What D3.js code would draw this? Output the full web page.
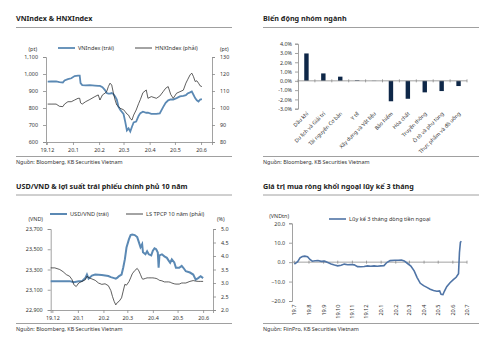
<!DOCTYPE html>
<html>
<head>
<meta charset="utf-8">
<script src="https://cdn.jsdelivr.net/npm/d3@7"></script>
<style>
  body { margin: 0; background: #fff; }
  svg { font-family: "Noto Sans", "Open Sans", sans-serif; }
</style>
</head>
<body>
<div id="wrapper"></div>
<script>
// ---- VNIndex & HNXIndex
const indexDates = ["2019-12-02","2019-12-06","2019-12-12","2019-12-16","2019-12-20","2019-12-22","2019-12-26","2019-12-30",
  "2020-01-03","2020-01-07","2020-01-09","2020-01-10","2020-01-12","2020-01-16","2020-01-21","2020-01-27","2020-01-31",
  "2020-02-02","2020-02-05","2020-02-08","2020-02-10","2020-02-12","2020-02-14","2020-02-16","2020-02-18","2020-02-20",
  "2020-02-22","2020-02-24","2020-02-26","2020-03-01","2020-03-03","2020-03-05","2020-03-07","2020-03-09","2020-03-11",
  "2020-03-13","2020-03-16","2020-03-19","2020-03-21","2020-03-24","2020-03-28","2020-03-30","2020-04-03","2020-04-09",
  "2020-04-13","2020-04-17","2020-04-20","2020-04-23","2020-04-26","2020-04-29","2020-05-03","2020-05-07","2020-05-11",
  "2020-05-14","2020-05-16","2020-05-19","2020-05-21","2020-05-23","2020-05-25","2020-05-27","2020-05-29","2020-05-31","2020-06-02"];
const vnIndex = [955,956,956,952,950,962,970,975,988,990,990,946,935,933,935,932,930,930,922,905,888,885,885,888,882,868,
  850,808,790,765,720,668,680,662,690,715,720,755,770,778,772,772,766,765,768,805,830,845,850,850,858,868,872,876,885,892,
  897,878,858,845,838,850,852];
const hnxIndex = [102.3,102.3,102.3,101.0,100.8,102.3,103.7,103.7,104.7,105.7,105.7,103.0,102.3,103.7,105.0,106.7,107.7,
  104.7,107.7,108.7,109.6,112.6,114.6,113.5,108.7,104.7,101.7,100.8,99.8,99.0,97.8,96.5,95.8,93.8,92.9,95.8,98.8,102.7,
  105.0,109.0,110.6,105.7,106.7,105.7,107.0,109.6,111.6,112.6,108.0,105.7,108.7,109.6,110.5,114.6,116.6,119.5,120.5,118.5,
  115.6,116.0,114.6,113.0,112.6];
const indexLeftTicks = [600,700,800,900,1000,1100];
const indexRightTicks = [80,90,100,110,120,130];

// ---- Biến động nhóm ngành
const sectorNames = ["Dầu khí","Du lịch và Giải trí","Tài nguyên Cơ bản","Y tế","Xây dựng và Vật liệu","Bảo hiểm",
  "Hóa chất","Truyền thông","Ô tô và phụ tùng","Thực phẩm và đồ uống"];
const sectorChange = [2.95,0.8,0.45,0.06,-0.02,-2.2,-1.93,-1.24,-1.1,-0.56];
const sectorTicks = [-3,-2,-1,0,1,2,3,4];

// ---- USD/VND & LS TPCP 10 năm
const fxDates = ["2019-11-29","2019-12-04","2019-12-10","2019-12-14","2019-12-18","2019-12-22","2019-12-25","2019-12-27",
  "2019-12-30","2020-01-02","2020-01-06","2020-01-10","2020-01-12","2020-01-14","2020-01-18","2020-01-22","2020-01-26",
  "2020-01-30","2020-02-03","2020-02-07","2020-02-10","2020-02-12","2020-02-14","2020-02-16","2020-02-18","2020-02-20",
  "2020-02-23","2020-02-25","2020-02-27","2020-02-29","2020-03-03","2020-03-05","2020-03-07","2020-03-10","2020-03-13",
  "2020-03-15","2020-03-17","2020-03-19","2020-03-20","2020-03-23","2020-03-25","2020-03-27","2020-03-30","2020-04-01",
  "2020-04-03","2020-04-05","2020-04-07","2020-04-08","2020-04-09","2020-04-12","2020-04-15","2020-04-18","2020-04-20",
  "2020-04-22","2020-04-24","2020-04-27","2020-04-29","2020-05-03","2020-05-06","2020-05-08","2020-05-11","2020-05-16",
  "2020-05-20","2020-05-23","2020-05-26","2020-05-29","2020-06-01"];
const usdVnd = [23183,23183,23183,23183,23183,23185,23180,23175,23180,23183,23185,23215,23250,23210,23240,23250,23248,
  23245,23240,23235,23225,23220,23215,23210,23220,23235,23250,23317,23400,23517,23600,23640,23645,23640,23620,23570,
  23520,23550,23470,23450,23480,23450,23440,23485,23510,23500,23467,23317,23440,23450,23430,23415,23390,23367,23400,
  23370,23317,23317,23335,23317,23283,23270,23250,23200,23215,23233,23215];
const bondYield = [3.56,3.56,3.50,3.42,3.31,3.25,3.12,2.94,2.87,3.00,3.06,3.12,3.25,3.20,3.15,3.10,3.00,2.95,2.97,2.90,
  2.72,2.50,2.32,2.19,2.28,2.32,2.45,2.70,2.95,2.92,3.05,3.19,3.34,3.46,3.54,3.45,3.31,3.16,3.14,3.17,3.19,3.19,3.19,3.19,
  3.18,3.17,3.14,3.12,3.10,3.08,3.04,3.04,3.04,3.03,3.00,2.97,2.96,2.96,3.00,3.00,3.00,3.06,3.09,3.07,3.06,3.06,3.06];
const fxLeftTicks = [22900,23100,23300,23500,23700];
const fxRightTicks = [2.0,2.5,3.0,3.5,4.0,4.5,5.0];
const halfYearTicks = ["19.12","20.1","20.2","20.3","20.4","20.5","20.6"];

// ---- Giá trị mua ròng khối ngoại lũy kế 3 tháng
const flowDates = ["2019-07-01","2019-07-08","2019-07-13","2019-07-18","2019-07-23","2019-07-29","2019-08-03","2019-08-08",
  "2019-08-14","2019-08-20","2019-08-27","2019-09-03","2019-09-10","2019-09-17","2019-09-24","2019-10-01","2019-10-08",
  "2019-10-15","2019-10-22","2019-10-29","2019-11-05","2019-11-12","2019-11-19","2019-11-26","2019-12-03","2019-12-10",
  "2019-12-17","2019-12-24","2019-12-31","2020-01-07","2020-01-13","2020-01-20","2020-01-30","2020-02-06","2020-02-13",
  "2020-02-19","2020-02-26","2020-03-04","2020-03-11","2020-03-17","2020-03-24","2020-03-31","2020-04-07","2020-04-14",
  "2020-04-21","2020-04-28","2020-05-04","2020-05-07","2020-05-11","2020-05-14","2020-05-19","2020-05-26","2020-06-02",
  "2020-06-08","2020-06-13","2020-06-15","2020-06-17","2020-06-19"];
const foreignFlow = [-1.0,0.2,2.2,2.9,3.1,2.8,1.4,0.5,0.7,0.8,0.4,0.5,-0.2,-0.9,-1.5,-1.9,-1.6,-1.0,-1.3,-1.2,-1.4,-2.3,
  -2.4,-2.2,-1.9,-2.1,-1.9,-2.1,-1.9,-1.8,-0.2,0.8,1.0,1.0,1.1,0.6,-0.7,-2.0,-4.5,-7.8,-10.9,-12.1,-13.0,-13.9,-14.6,-15.0,
  -14.8,-16.5,-16.7,-15.0,-12.6,-10.6,-9.0,-7.8,-6.0,5.0,10.2,10.8];
const flowTicks = [-20,-10,0,10,20];
const monthTicks = ["19.7","19.8","19.9","19.10","19.11","19.12","20.1","20.2","20.3","20.4","20.5","20.6","20.7"];

const parseDate = d3.timeParse("%Y-%m-%d");
const parseMonth = d3.timeParse("%y.%m");
const textColor = "#333";
const axisColor = "#8a8a8a";
const blueLine = "#5b89b4";

const svg = d3.select("#wrapper").append("svg")
  .attr("width", 500)
  .attr("height", 348);

function drawFrame(x0, x1, titleY, title, sourceY, source) {
  svg.append("text")
    .attr("x", x0).attr("y", titleY)
    .attr("font-size", 7.2).attr("font-weight", "bold").attr("fill", "#222")
    .text(title);
  svg.append("line")
    .attr("x1", x0).attr("x2", x1).attr("y1", titleY + 6.5).attr("y2", titleY + 6.5)
    .attr("stroke", "#888").attr("stroke-width", 0.8);
  svg.append("line")
    .attr("x1", x0).attr("x2", x1).attr("y1", sourceY - 6).attr("y2", sourceY - 6)
    .attr("stroke", "#888").attr("stroke-width", 0.8);
  svg.append("text")
    .attr("x", x0).attr("y", sourceY).attr("dy", "0.35em")
    .attr("font-size", 5.4).attr("fill", textColor)
    .text(source);
}

function styleAxis(g) {
  g.select(".domain").attr("stroke", axisColor).attr("stroke-width", 0.8);
  g.selectAll(".tick line").attr("stroke", axisColor).attr("stroke-width", 0.8);
  g.selectAll(".tick text").attr("fill", textColor).attr("font-size", 5.4);
  g.attr("font-family", null);
}

function legendItem(x, y, color, width, label) {
  svg.append("line")
    .attr("x1", x).attr("x2", x + 17).attr("y1", y).attr("y2", y)
    .attr("stroke", color).attr("stroke-width", width);
  svg.append("text")
    .attr("x", x + 20).attr("y", y).attr("dy", "0.35em")
    .attr("font-size", 5.6).attr("fill", textColor)
    .text(label);
}

function unitLabel(x, y, anchor, label) {
  svg.append("text")
    .attr("x", x).attr("y", y).attr("dy", "0.35em")
    .attr("text-anchor", anchor)
    .attr("font-size", 5.4).attr("fill", textColor)
    .text(label);
}

// ============ Panel 1
function drawIndexPanel() {
  drawFrame(16, 232, 21, "VNIndex & HNXIndex", 162.5, "Nguồn: Bloomberg, KB Securities Vietnam");
  const dim = { left: 46, right: 212, top: 57, bottom: 142 };

  const xScaler = d3.scaleTime()
    .domain([parseDate("2019-11-30"), parseDate("2020-06-14")])
    .range([dim.left, dim.right]);
  const yScaler = d3.scaleLinear().domain([600, 1100]).range([dim.bottom, dim.top]);
  const yScalerRight = d3.scaleLinear().domain([80, 130]).range([dim.bottom, dim.top]);

  const xAxisGenerator = d3.axisBottom(xScaler)
    .tickValues(halfYearTicks.map(parseMonth))
    .tickFormat((d, i) => halfYearTicks[i])
    .tickSize(3).tickPadding(3);
  svg.append("g")
    .attr("transform", `translate(0,${dim.bottom})`)
    .call(xAxisGenerator).call(styleAxis);

  svg.append("g")
    .attr("transform", `translate(${dim.left},0)`)
    .call(d3.axisLeft(yScaler).tickValues(indexLeftTicks).tickFormat(d3.format(",")).tickSize(3).tickPadding(5))
    .call(styleAxis);
  svg.append("g")
    .attr("transform", `translate(${dim.right},0)`)
    .call(d3.axisRight(yScalerRight).tickValues(indexRightTicks).tickSize(3).tickPadding(5))
    .call(styleAxis);

  const dates = indexDates.map(parseDate);
  const lineLeft = d3.line().x((d, i) => xScaler(dates[i])).y(d => yScaler(d));
  const lineRight = d3.line().x((d, i) => xScaler(dates[i])).y(d => yScalerRight(d));

  svg.append("path").attr("d", lineLeft(vnIndex))
    .attr("fill", "none").attr("stroke", blueLine).attr("stroke-width", 1.8);
  svg.append("path").attr("d", lineRight(hnxIndex))
    .attr("fill", "none").attr("stroke", "#1a1a1a").attr("stroke-width", 0.7);

  legendItem(58, 48, blueLine, 1.8, "VNIndex (trái)");
  legendItem(135, 48, "#1a1a1a", 0.8, "HNXIndex (phải)");
  unitLabel(37, 49.5, "end", "(pt)");
  unitLabel(220, 49.5, "start", "(pt)");
}

// ============ Panel 2
function drawSectorPanel() {
  drawFrame(263, 479, 21, "Biến động nhóm ngành", 162.5, "Nguồn: Bloomberg, KB Securities Vietnam");
  const dim = { left: 298, right: 467, top: 43.7, bottom: 108.7 };

  const xScaler = d3.scaleBand().domain(sectorNames).range([dim.left, dim.right]);
  const yScaler = d3.scaleLinear().domain([-3, 4]).range([dim.bottom, dim.top]);

  svg.append("g")
    .attr("transform", `translate(${dim.left},0)`)
    .call(d3.axisLeft(yScaler).tickValues(sectorTicks).tickFormat(d => d.toFixed(1) + "%").tickSize(3).tickPadding(3))
    .call(styleAxis);

  svg.append("g").selectAll("rect")
    .data(sectorChange)
    .join("rect")
    .attr("x", (d, i) => xScaler(sectorNames[i]) + xScaler.bandwidth() / 2 - 2.2)
    .attr("width", 4.4)
    .attr("y", d => yScaler(Math.max(0, d)))
    .attr("height", d => Math.abs(yScaler(d) - yScaler(0)))
    .attr("fill", "#0e2748");

  // zero line with category separators
  const zero = yScaler(0);
  svg.append("line")
    .attr("x1", dim.left).attr("x2", dim.right).attr("y1", zero).attr("y2", zero)
    .attr("stroke", axisColor).attr("stroke-width", 0.8);
  svg.append("g").selectAll("line")
    .data(sectorNames.concat([null]))
    .join("line")
    .attr("x1", (d, i) => dim.left + i * xScaler.step())
    .attr("x2", (d, i) => dim.left + i * xScaler.step())
    .attr("y1", zero - 1.5).attr("y2", zero + 1.5)
    .attr("stroke", axisColor).attr("stroke-width", 0.8);

  svg.append("g").selectAll("text")
    .data(sectorNames)
    .join("text")
    .attr("transform", d => `translate(${xScaler(d) + xScaler.bandwidth() / 2 + 1},${dim.bottom + 4}) rotate(-45)`)
    .attr("text-anchor", "end")
    .attr("dy", "0.35em")
    .attr("font-size", 5.2).attr("fill", textColor)
    .text(d => d);
}

// ============ Panel 3
function drawFxPanel() {
  drawFrame(16, 232, 188.5, "USD/VND & lợi suất trái phiếu chính phủ 10 năm", 329.5, "Nguồn: Bloomberg, KB Securities Vietnam");
  const dim = { left: 50.7, right: 213, top: 229, bottom: 310 };

  const xScaler = d3.scaleTime()
    .domain([parseDate("2019-11-29"), parseDate("2020-06-13")])
    .range([dim.left, dim.right]);
  const yScaler = d3.scaleLinear().domain([22900, 23700]).range([dim.bottom, dim.top]);
  const yScalerRight = d3.scaleLinear().domain([2, 5]).range([dim.bottom, dim.top]);

  svg.append("g")
    .attr("transform", `translate(0,${dim.bottom})`)
    .call(d3.axisBottom(xScaler)
      .tickValues(halfYearTicks.map(parseMonth))
      .tickFormat((d, i) => halfYearTicks[i])
      .tickSize(3).tickPadding(3))
    .call(styleAxis);
  svg.append("g")
    .attr("transform", `translate(${dim.left},0)`)
    .call(d3.axisLeft(yScaler).tickValues(fxLeftTicks).tickFormat(d3.format(",")).tickSize(3).tickPadding(5))
    .call(styleAxis);
  svg.append("g")
    .attr("transform", `translate(${dim.right},0)`)
    .call(d3.axisRight(yScalerRight).tickValues(fxRightTicks).tickFormat(d3.format(".1f")).tickSize(3).tickPadding(5))
    .call(styleAxis);

  const dates = fxDates.map(parseDate);
  const lineLeft = d3.line().x((d, i) => xScaler(dates[i])).y(d => yScaler(d));
  const lineRight = d3.line().x((d, i) => xScaler(dates[i])).y(d => yScalerRight(d));

  svg.append("path").attr("d", lineLeft(usdVnd))
    .attr("fill", "none").attr("stroke", blueLine).attr("stroke-width", 2);
  svg.append("path").attr("d", lineRight(bondYield))
    .attr("fill", "none").attr("stroke", "#1a1a1a").attr("stroke-width", 0.7);

  legendItem(50, 214, blueLine, 2, "USD/VND (trái)");
  legendItem(126, 214, "#1a1a1a", 0.8, "LS TPCP 10 năm (phải)");
  unitLabel(43, 219.5, "end", "(VND)");
  unitLabel(217, 219.5, "start", "(%)");
}

// ============ Panel 4
function drawFlowPanel() {
  drawFrame(263, 479, 188.5, "Giá trị mua ròng khối ngoại lũy kế 3 tháng", 329.5, "Nguồn: FiinPro, KB Securities Vietnam");
  const dim = { left: 292, right: 467, top: 223.3, bottom: 301 };

  const xScaler = d3.scaleTime()
    .domain([parseDate("2019-06-26"), parseDate("2020-07-01")])
    .range([dim.left, dim.right]);
  const yScaler = d3.scaleLinear().domain([-20, 20]).range([dim.bottom, dim.top]);

  svg.append("g")
    .attr("transform", `translate(${dim.left},0)`)
    .call(d3.axisLeft(yScaler).tickValues(flowTicks).tickFormat(d3.format(".1f")).tickSize(3).tickPadding(4))
    .call(styleAxis);

  const zero = yScaler(0);
  const tickDates = monthTicks.map(parseMonth);
  svg.append("line")
    .attr("x1", dim.left).attr("x2", dim.right).attr("y1", zero).attr("y2", zero)
    .attr("stroke", axisColor).attr("stroke-width", 0.8);
  svg.append("g").selectAll("line")
    .data(tickDates)
    .join("line")
    .attr("x1", d => xScaler(d)).attr("x2", d => xScaler(d))
    .attr("y1", zero - 1.5).attr("y2", zero + 1.5)
    .attr("stroke", axisColor).attr("stroke-width", 0.8);
  svg.append("g").selectAll("text")
    .data(monthTicks)
    .join("text")
    .attr("transform", (d, i) => `translate(${xScaler(tickDates[i])},${dim.bottom + 3.5}) rotate(-90)`)
    .attr("text-anchor", "end")
    .attr("dy", "0.35em")
    .attr("font-size", 5.6).attr("fill", textColor)
    .text(d => d);

  const dates = flowDates.map(parseDate);
  const lineGenerator = d3.line().x((d, i) => xScaler(dates[i])).y(d => yScaler(d));
  svg.append("path").attr("d", lineGenerator(foreignFlow))
    .attr("fill", "none").attr("stroke", "#4f74a6").attr("stroke-width", 1.6);

  legendItem(329, 219, "#4f74a6", 1.6, "Lũy kế 3 tháng dòng tiền ngoại");
  unitLabel(289, 216, "end", "(VNDtn)");
}

drawIndexPanel();
drawSectorPanel();
drawFxPanel();
drawFlowPanel();
</script>
</body>
</html>
